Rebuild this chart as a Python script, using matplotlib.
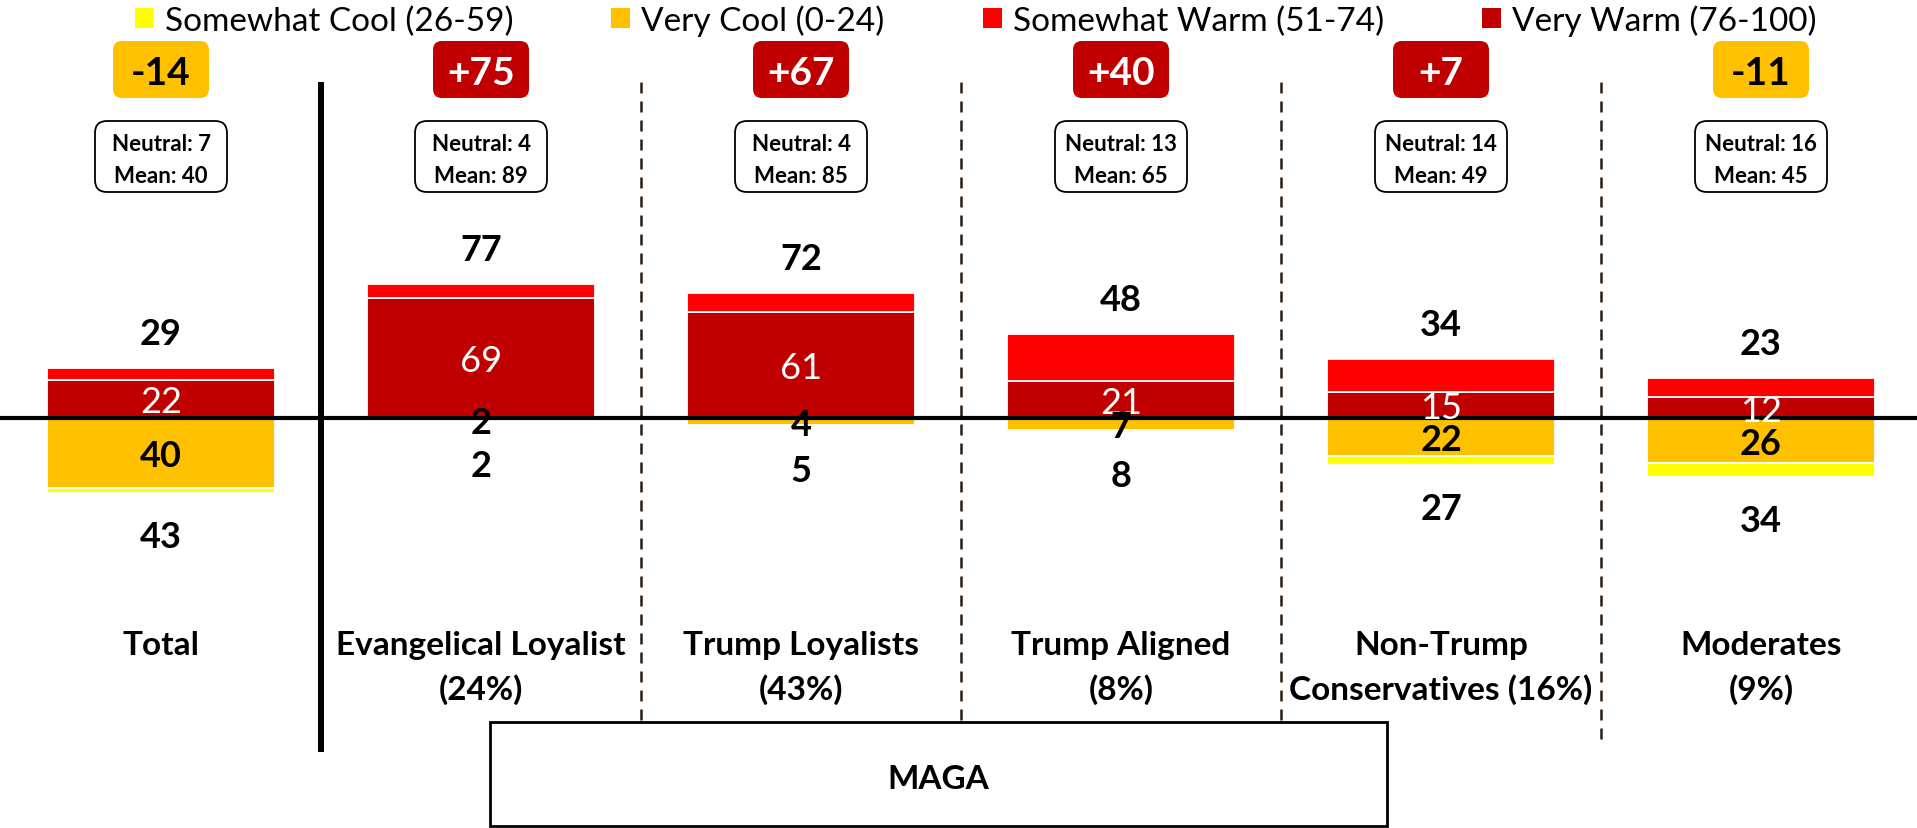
import numpy as np
import matplotlib.pyplot as plt
from matplotlib.patches import FancyBboxPatch, Rectangle, Patch

plt.rcParams['font.family'] = ['Lato', 'DejaVu Sans']

categories = ["Total", "Evangelical Loyalist\n(24%)", "Trump Loyalists\n(43%)",
              "Trump Aligned\n(8%)", "Non-Trump\nConservatives (16%)", "Moderates\n(9%)"]
very_warm = [22, 69, 61, 21, 15, 12]
somewhat_warm = [7, 8, 11, 27, 19, 11]
very_cool = [40, 2, 4, 7, 22, 26]
somewhat_cool = [3, 0, 1, 1, 5, 8]
warm_total = [29, 77, 72, 48, 34, 23]
cool_total = [43, 2, 5, 8, 27, 34]
net_score = [-14, 75, 67, 40, 7, -11]
neutral = [7, 4, 4, 13, 14, 16]
mean_score = [40, 89, 85, 65, 49, 45]
legend_labels = ["Somewhat Cool (26-59)", "Very Cool (0-24)",
                 "Somewhat Warm (51-74)", "Very Warm (76-100)"]

VW, SW, VC, SC = "#C00000", "#FF0000", "#FFC000", "#FFFF00"

W, H = 1917, 829
fig = plt.figure(figsize=(W / 100, H / 100), dpi=100)
ax = fig.add_axes([0, 0, 1, 1])
ax.axis('off')

# layout in pixels: category i centred at X0 + DX*i, zero line Y0 px from top, SY px per point
X0, DX, Y0, SY = 161, 320, 419, 1.74
ax.set_xlim(-X0 / DX, (W - X0) / DX)
ax.set_ylim(-(H - Y0) / SY, Y0 / SY)


def px(p):
    return (p - X0) / DX


def py(p):
    return (Y0 - p) / SY


x = np.arange(len(categories))
kw = dict(width=0.71, edgecolor='white', linewidth=1.3, zorder=2)
ax.bar(x, very_warm, color=VW, **kw)
ax.bar(x, somewhat_warm, bottom=very_warm, color=SW, **kw)
ax.bar(x, -np.array(very_cool), color=VC, **kw)
ax.bar(x, -np.array(somewhat_cool), bottom=-np.array(very_cool), color=SC, **kw)
ax.axhline(0, color='black', lw=3, zorder=4)


def label(xi, y, s, dy, color='black', weight='bold'):
    ax.annotate(s, (xi, y), xytext=(0, dy), textcoords='offset points',
                ha='center', va='baseline', fontsize=26, fontweight=weight,
                color=color, zorder=5)


for i in x:
    label(i, warm_total[i], str(warm_total[i]), 17.3)
    label(i, very_warm[i] / 2, str(very_warm[i]), -9.4, color='white', weight='normal')
    label(i, -very_cool[i] / 2, str(very_cool[i]), -9.4)
    label(i, -cool_total[i], str(cool_total[i]), -38.9)

# net score boxes and neutral/mean boxes
for i in x:
    v = net_score[i]
    w, h = 96 / DX, 57 / SY
    ax.add_patch(FancyBboxPatch((i - w / 2, py(70.5) - h / 2), w, h,
                                boxstyle=f"round,pad=0,rounding_size={9 / DX}",
                                mutation_aspect=DX / SY,
                                fc=VW if v > 0 else VC, ec='none', zorder=3))
    ax.text(i, py(85), f"{v:+d}", ha='center', va='baseline', fontsize=28,
            fontweight='bold', color='white' if v > 0 else 'black', zorder=4)

    w, h = 132 / DX, 71 / SY
    ax.add_patch(FancyBboxPatch((i - w / 2, py(157.5) - h / 2), w, h,
                                boxstyle=f"round,pad=0,rounding_size={12 / DX}",
                                mutation_aspect=DX / SY,
                                fc='white', ec='black', lw=1.3, zorder=3))
    ax.text(i, py(151), f"Neutral: {neutral[i]}", ha='center', va='baseline',
            fontsize=16, fontweight='bold', zorder=4)
    ax.text(i, py(183), f"Mean: {mean_score[i]}", ha='center', va='baseline',
            fontsize=16, fontweight='bold', zorder=4)

    ax.text(i, py(631), categories[i], ha='center', va='top', fontsize=24,
            fontweight='bold', linespacing=1.55)

# dividers
ax.plot([0.5, 0.5], [py(83), py(753)], color='black', lw=4.3, solid_capstyle='butt')
for xd, yb in zip([1.5, 2.5, 3.5, 4.5], [723, 723, 723, 747]):
    ax.plot([xd, xd], [py(83), py(yb)], color='#2b1d12', lw=1.8,
            linestyle=(0, (4.4, 3.2)))

# MAGA bracket box
ax.add_patch(Rectangle((px(490), py(827)), px(1387) - px(490), py(723) - py(827),
                       fc='white', ec='black', lw=2, zorder=3))
ax.text((px(490) + px(1387)) / 2, py(789), "MAGA", ha='center', va='baseline',
        fontsize=24, fontweight='bold', zorder=4)

handles = [Patch(fc=c, ec='none') for c in [SC, VC, SW, VW]]
fig.legend(handles, legend_labels, loc='center', bbox_to_anchor=(975.5 / W, 1 - 21 / H),
           ncol=4, frameon=False, fontsize=24, handlelength=0.57, handleheight=0.55,
           handletextpad=0.33, columnspacing=2.94, borderpad=0, borderaxespad=0)

fig.savefig('out.png', dpi=100)
